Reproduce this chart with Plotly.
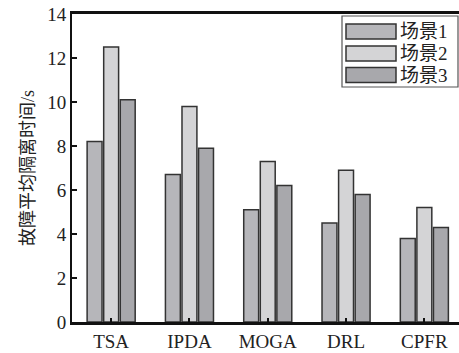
import plotly.graph_objects as go

# Mean fault isolation time per method under three scenarios
methods = ["TSA", "IPDA", "MOGA", "DRL", "CPFR"]
scenario_names = ["场景1", "场景2", "场景3"]
scene1 = [8.2, 6.7, 5.1, 4.5, 3.8]
scene2 = [12.5, 9.8, 7.3, 6.9, 5.2]
scene3 = [10.1, 7.9, 6.2, 5.8, 4.3]
y_ticks = [0, 2, 4, 6, 8, 10, 12, 14]

series = [scene1, scene2, scene3]
fills = ["#b6b6ba", "#d4d4d6", "#a8a8ac"]
edge = "#333333"
FONT = "Liberation Serif, Times New Roman, Noto Sans CJK SC, serif"

fig = go.Figure()
for name, vals, col in zip(scenario_names, series, fills):
    fig.add_trace(go.Bar(
        x=list(range(len(methods))), y=vals, name=name,
        marker=dict(color=col, line=dict(color=edge, width=1.5)),
        showlegend=False,
    ))

# Custom legend box with wide swatches (paper coordinates)
W, H = 459, 353
L, T, B, R = 72, 14, 31, 0
pw, ph = W - L - R, H - T - B

def px_x(x):
    return (x - L) / pw

def px_y(y):
    return 1 - (y - T) / ph

fig.add_shape(type="rect", xref="paper", yref="paper",
              x0=px_x(342), x1=px_x(458), y0=px_y(87), y1=px_y(16),
              line=dict(color="#555555", width=1.2), fillcolor="white")
centers = [31.5, 53.5, 75]
for name, col, cy in zip(scenario_names, fills, centers):
    fig.add_shape(type="rect", xref="paper", yref="paper",
                  x0=px_x(346), x1=px_x(396), y0=px_y(cy + 7.5), y1=px_y(cy - 7.5),
                  line=dict(color=edge, width=1.5), fillcolor=col)
    fig.add_annotation(xref="paper", yref="paper", x=px_x(398), y=px_y(cy),
                       text=name, showarrow=False, xanchor="left", yanchor="middle",
                       font=dict(family=FONT, size=19, color="#222222"))

fig.update_layout(
    width=W, height=H,
    margin=dict(l=L, r=R, t=T, b=B),
    paper_bgcolor="white", plot_bgcolor="white",
    barmode="group", bargap=0.365, bargroupgap=0.1,
    font=dict(family=FONT, size=18, color="#222222"),
)
fig.update_xaxes(
    tickmode="array", tickvals=list(range(len(methods))), ticktext=methods,
    range=[-0.5, -0.5 + pw / 78.3],
    showline=True, linecolor="#111111", linewidth=2.5, mirror=True,
    ticks="inside", ticklen=4, tickwidth=1.5, tickcolor="#111111",
    showgrid=False, zeroline=False,
    tickfont=dict(family=FONT, size=19),
)
fig.update_yaxes(
    range=[0, 14], tickvals=y_ticks,
    showline=True, linecolor="#111111", linewidth=2,
    ticks="inside", ticklen=5, tickwidth=1.5, tickcolor="#111111",
    showgrid=False, zeroline=False,
    tickfont=dict(family=FONT, size=19),
    title=dict(text="故障平均隔离时间/s", standoff=8,
               font=dict(family=FONT, size=18)),
)

fig.write_html("out.html")
